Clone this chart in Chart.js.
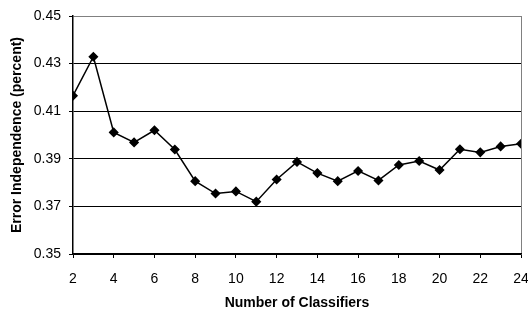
<!DOCTYPE html>
<html><head><meta charset="utf-8">
<script src="https://cdn.jsdelivr.net/npm/chart.js@4/dist/chart.umd.min.js"></script>
<style>html,body{margin:0;padding:0;background:#fff}</style>
</head><body>
<canvas id="c" width="528" height="312"></canvas>
<script>
const classifiers = [2,3,4,5,6,7,8,9,10,11,12,13,14,15,16,17,18,19,20,21,22,23,24];
const errorIndependence = [0.4165,0.4329,0.4011,0.3969,0.4020,0.3939,0.3806,0.3754,0.3763,0.3720,0.3813,0.3887,0.3840,0.3806,0.3849,0.3809,0.3874,0.3891,0.3853,0.3940,0.3927,0.3952,0.3963];
const xTitle = 'Number of Classifiers';
const yTitle = 'Error Independence (percent)';

const points = classifiers.map((x,i)=>({x:x,y:errorIndependence[i]}));
const fam = '"Liberation Sans", Arial, sans-serif';
const font = {family:fam, size:14};
new Chart(document.getElementById('c'), {
  type:'line',
  data:{datasets:[{data:points,borderColor:'#000',backgroundColor:'#000',borderWidth:1.5,
    pointStyle:'rectRot',pointRadius:4,pointHoverRadius:4,tension:0}]},
  options:{
    responsive:false,animation:false,
    layout:{padding:{left:0,right:7,top:16,bottom:0}},
    plugins:{legend:{display:false},tooltip:{enabled:false}},
    scales:{
      x:{type:'linear',min:2,max:24,
        afterFit:(s)=>{s.height=58;s.paddingLeft=0;s.paddingRight=0;},
        ticks:{stepSize:2,color:'#000',font:font,padding:13,maxRotation:0},
        grid:{color:(c)=>c.tick&&c.tick.value===24?'#808080':'transparent',tickColor:'#000',tickLength:4,lineWidth:1},
        border:{color:'#000',width:1.5},
        title:{display:true,text:xTitle,color:'#000',font:{family:fam,size:14,weight:'bold'},padding:{top:0,bottom:0}}},
      y:{min:0.35,max:0.45,
        afterFit:(s)=>{s.width=73;s.paddingTop=0;s.paddingBottom=0;},
        ticks:{stepSize:0.02,color:'#000',font:font,padding:8,callback:(v)=>v.toFixed(2)},
        grid:{color:(c)=>c.tick&&Math.abs(c.tick.value-0.45)<1e-9?'#808080':'#000',tickColor:'#000',tickLength:4,lineWidth:1},
        border:{color:'#000',width:1.5},
        title:{display:true,text:yTitle,color:'#000',font:{family:fam,size:14,weight:'bold'},padding:{top:9,bottom:0}}}
    }
  }
});
</script>
</body></html>
